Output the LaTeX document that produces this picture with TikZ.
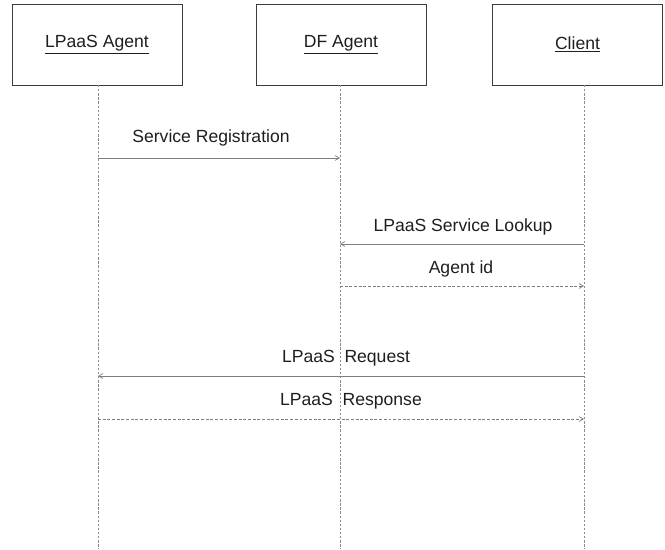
\documentclass[tikz,border=0pt]{standalone}
\usepackage{fontspec}
\setmainfont{Liberation Sans}
\usetikzlibrary{arrows}

\definecolor{boxline}{HTML}{3C3C3C}
\definecolor{msgline}{HTML}{7E7E7E}
\definecolor{lifeline}{HTML}{8C8C8C}
\definecolor{txt}{HTML}{1E1E1E}

\begin{document}
\begin{tikzpicture}[x=0.03cm,y=-0.03cm,>=angle 60,
        actor/.style={draw=boxline, line width=0.6pt, minimum width=170*0.03cm,
                minimum height=81*0.03cm, text=txt, font=\fontsize{15}{18}\selectfont},
        life/.style={lifeline, dashed, line width=0.4pt, dash pattern=on 2pt off 1.5pt},
        msg/.style={msgline, line width=0.6pt, ->},
        reply/.style={msgline, line width=0.6pt, ->, dash pattern=on 2.5pt off 1.5pt},
        msglabel/.style={text=txt, font=\fontsize{15}{18}\selectfont}]
        \useasboundingbox (0,0) rectangle (665,549);
        % Draw actors
        \node [actor] (lpaas) at (97,44.5) {\underline{LPaaS Agent}};
        \node [actor] (df) at (341,44.5) {\underline{DF Agent}};
        \node [actor] (client) at (577.5,44.5) {\underline{Client}};
        % Draw lifelines
        \coordinate (lpaastop) at (98,85);
        \coordinate (lpaasbot) at (98,549);
        \coordinate (dftop) at (340,85);
        \coordinate (dfbot) at (340,549);
        \coordinate (clienttop) at (584,85);
        \coordinate (clientbot) at (584,549);
        \draw [life] (lpaastop) -- (lpaasbot);
        \draw [life] (dftop) -- (dfbot);
        \draw [life] (clienttop) -- (clientbot);
        % Draw messages
        \draw [msg] (lpaastop |- 0,158) -- (dftop |- 0,158);
        \node [msglabel] (registration) at (211,138) {Service Registration};
        \draw [msg] (clienttop |- 0,244) -- (dftop |- 0,244);
        \node [msglabel] (lookup) at (463,227) {LPaaS Service Lookup};
        \draw [reply] (dftop |- 0,286) -- (clienttop |- 0,286);
        \node [msglabel] (agentid) at (461,269) {Agent id};
        \draw [msg] (clienttop |- 0,376) -- (lpaastop |- 0,376);
        \node [msglabel] (request) at (346,358) {LPaaS\ \ Request};
        \draw [reply] (lpaastop |- 0,419) -- (clienttop |- 0,419);
        \node [msglabel] (response) at (351,401) {LPaaS\ \ Response};
\end{tikzpicture}
\end{document}
